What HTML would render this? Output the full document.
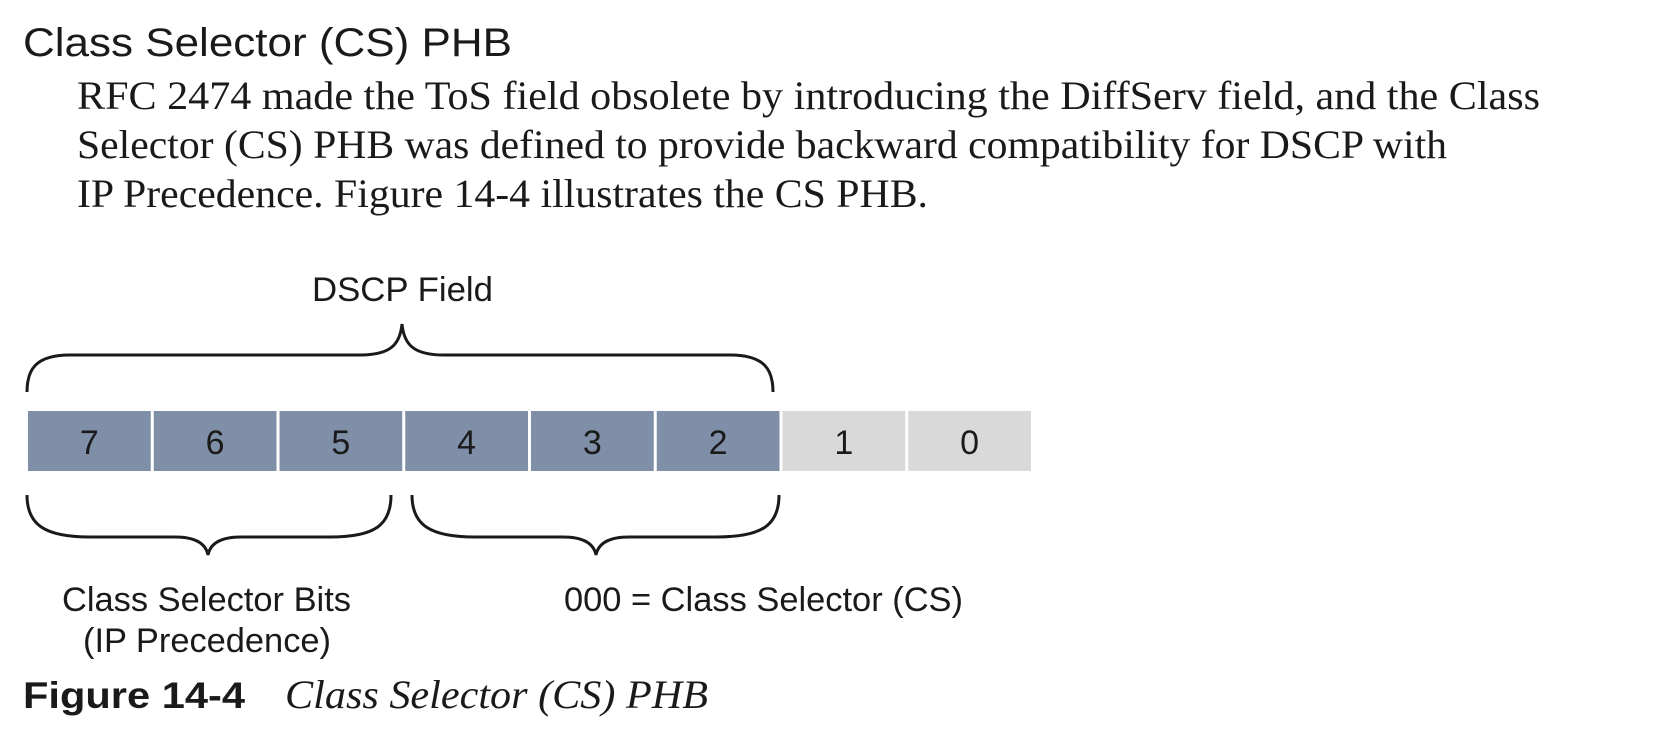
<!DOCTYPE html>
<html><head><meta charset="utf-8"><style>
html,body{margin:0;padding:0;background:#fff;width:1668px;height:740px;overflow:hidden}
svg{display:block}
.sans{font-family:"Liberation Sans",sans-serif;fill:#1a1a1a}
.serif{font-family:"Liberation Serif",serif;fill:#1a1a1a}
</style></head><body>
<svg id="fig" width="1668" height="740" viewBox="0 0 1668 740">
<text class="sans" x="23" y="56" font-size="40" textLength="489" lengthAdjust="spacingAndGlyphs">Class Selector (CS) PHB</text>
<text class="serif" x="77" y="109" font-size="40" textLength="1463" lengthAdjust="spacingAndGlyphs">RFC 2474 made the ToS field obsolete by introducing the DiffServ field, and the Class</text>
<text class="serif" x="77" y="158" font-size="40" textLength="1370" lengthAdjust="spacingAndGlyphs">Selector (CS) PHB was defined to provide backward compatibility for DSCP with</text>
<text class="serif" x="77" y="207" font-size="40" textLength="851" lengthAdjust="spacingAndGlyphs">IP Precedence. Figure 14-4 illustrates the CS PHB.</text>

<text class="sans" x="312" y="301" font-size="34" textLength="181" lengthAdjust="spacingAndGlyphs">DSCP Field</text>
<path d="M27,392 C27,370 35,355 70,355 L360,355 C390,355 400,345 402,324 C404,345 414,355 444,355 L730,355 C765,355 773,370 773,392" fill="none" stroke="#1a1a1a" stroke-width="3"/>
<g id="bits"></g>
<path d="M27,495 C27,525 45,537 90,537 L175,537 C198,537 206,545 208,555 C210,545 218,537 241,537 L330,537 C375,537 391,525 391,495" fill="none" stroke="#1a1a1a" stroke-width="3"/>
<path d="M412,495 C412,525 430,537 475,537 L563,537 C586,537 594,545 596,555 C598,545 606,537 629,537 L717,537 C762,537 779,525 779,495" fill="none" stroke="#1a1a1a" stroke-width="3"/>
<text class="sans" x="62" y="611" font-size="34" textLength="289" lengthAdjust="spacingAndGlyphs">Class Selector Bits</text>
<text class="sans" x="83" y="652" font-size="34" textLength="248" lengthAdjust="spacingAndGlyphs">(IP Precedence)</text>
<text class="sans" x="564" y="611" font-size="34" textLength="399" lengthAdjust="spacingAndGlyphs">000 = Class Selector (CS)</text>
<text class="sans" x="23" y="708" font-size="37" font-weight="bold" textLength="222" lengthAdjust="spacingAndGlyphs">Figure 14-4</text>
<text class="serif" x="285" y="708" font-size="40" font-style="italic" textLength="423" lengthAdjust="spacingAndGlyphs">Class Selector (CS) PHB</text>
</svg>
<script>
const bitLabels = ["7","6","5","4","3","2","1","0"];
const bitIsDscp = [1,1,1,1,1,1,0,0];
const g = document.getElementById('bits');
const NS = 'http://www.w3.org/2000/svg';
const x0 = 28, x1 = 1034, y0 = 411, h = 60;
const w = (x1 - x0) / bitLabels.length;
bitLabels.forEach((lab, i) => {
  const r = document.createElementNS(NS, 'rect');
  r.setAttribute('x', x0 + i * w);
  r.setAttribute('y', y0);
  r.setAttribute('width', w - 3);
  r.setAttribute('height', h);
  r.setAttribute('fill', bitIsDscp[i] ? '#7f8fa8' : '#d9d9d9');
  
  
  g.appendChild(r);
  const t = document.createElementNS(NS, 'text');
  t.setAttribute('x', x0 + i * w + (w - 3) / 2);
  t.setAttribute('y', y0 + 43);
  t.setAttribute('text-anchor', 'middle');
  t.setAttribute('font-size', '34');
  t.setAttribute('class', 'sans');
  t.textContent = lab;
  
  
  g.appendChild(t);
});
</script>
</body></html>
